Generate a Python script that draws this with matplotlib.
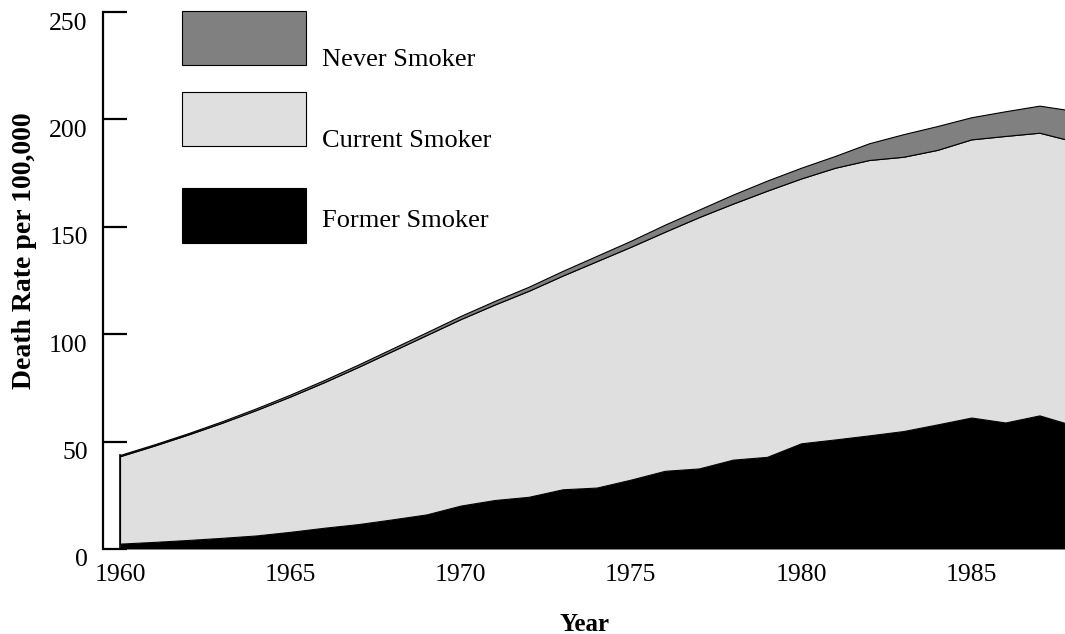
import numpy as np
import matplotlib
matplotlib.use('Agg')
import matplotlib.pyplot as plt
from matplotlib.patches import Rectangle
from matplotlib.transforms import ScaledTranslation

plt.rcParams['font.family'] = ['Liberation Serif', 'DejaVu Serif']

years = np.arange(1960, 1989)

# top of stack (all three groups)
total = [43.8, 48.7, 53.9, 59.5, 65.5, 71.9, 78.7, 85.9, 93.4, 100.9,
         108.5, 115.5, 122.1, 129.5, 136.5, 143.5, 151.0, 158.0, 165.0, 171.5,
         177.5, 183.0, 188.9, 193.1, 196.9, 201.0, 203.8, 206.4, 204.0]
# top of current smoker band (former + current)
former_current = [43.2, 48.1, 53.3, 58.8, 64.7, 71.0, 77.7, 84.8, 92.2, 99.6,
                  107.0, 113.8, 120.2, 127.3, 134.0, 140.7, 147.7, 154.5, 160.8, 166.8,
                  172.5, 177.5, 181.1, 182.6, 185.8, 190.7, 192.3, 193.8, 189.8]
former = [2.5, 3.3, 4.2, 5.2, 6.3, 8.0, 9.9, 11.6, 13.8, 16.1,
          20.2, 22.8, 24.3, 27.8, 28.6, 32.3, 36.4, 37.5, 41.6, 42.9,
          49.2, 51.0, 52.9, 54.9, 58.0, 61.2, 58.9, 62.2, 57.5]

current = np.array(former_current) - np.array(former)
never = np.array(total) - np.array(former_current)

labels = ['Never Smoker', 'Current Smoker', 'Former Smoker']
colors = {'Never Smoker': '#808080', 'Current Smoker': '#dfdfdf', 'Former Smoker': '#000000'}

W, H = 1065, 634
fig = plt.figure(figsize=(W / 100, H / 100), dpi=100)
ax = fig.add_axes([103 / W, (H - 549) / H, (W - 103) / W, (549 - 12) / H])

ax.fill_between(years, 0, former, color=colors['Former Smoker'], linewidth=0)
ax.fill_between(years, former, former_current, facecolor=colors['Current Smoker'],
                edgecolor='black', linewidth=0.8)
ax.fill_between(years, former_current, total, facecolor=colors['Never Smoker'],
                edgecolor='black', linewidth=0.8)
ax.plot([years[0], years[0]], [0, total[0]], color='black', linewidth=1.2)

ax.set_xlim(1959.5, 1987.75)
ax.set_ylim(0, 250)
ax.set_xticks(range(1960, 1990, 5))
ax.set_yticks(range(0, 251, 50))

for s in ['top', 'right', 'bottom']:
    ax.spines[s].set_visible(False)
ax.spines['left'].set_linewidth(1.6)
ax.tick_params(axis='y', direction='in', length=17, width=1.6, labelsize=18.5, pad=11)
ax.tick_params(axis='x', length=0, labelsize=18.5, pad=11)

# y labels sit a little below their ticks in the original
shift = ScaledTranslation(0, -9 / 100, fig.dpi_scale_trans)
for lbl in ax.get_yticklabels():
    lbl.set_transform(lbl.get_transform() + shift)

fig.text(25 / W, 1 - 251 / H, 'Death Rate per 100,000', rotation=90,
         ha='center', va='center', fontsize=20, fontweight='bold')
fig.text(585 / W, 1 - 631 / H, 'Year', ha='center', va='baseline',
         fontsize=18, fontweight='bold')

# legend boxes drawn by hand, as in the original
boxes = [(11, 65, 66), (92, 146, 147), (188, 243, 227)]
for lab, (y0, y1, ty) in zip(labels, boxes):
    fig.add_artist(Rectangle((182 / W, 1 - y1 / H), 124 / W, (y1 - y0) / H,
                             transform=fig.transFigure, facecolor=colors[lab],
                             edgecolor='black', linewidth=0.8))
    fig.text(322 / W, 1 - ty / H, lab, ha='left', va='baseline', fontsize=19)

fig.savefig('out.png', dpi=100)
